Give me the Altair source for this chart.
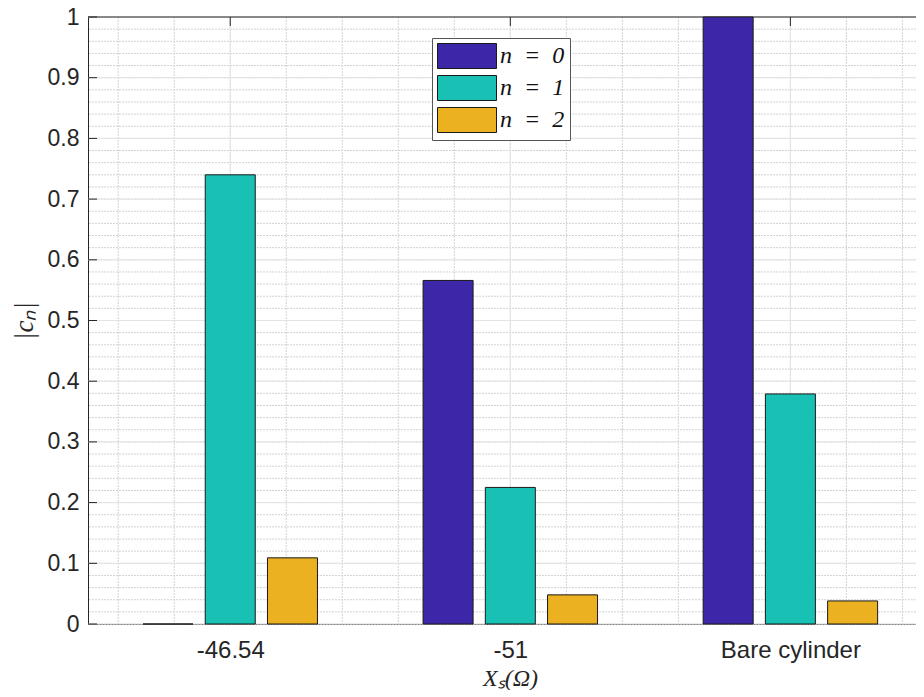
import json
import altair as alt
import pandas as pd

# ---- data ----
groups = ["-46.54", "-51", "Bare cylinder"]
series = ["n\u2002=\u20020", "n\u2002=\u20021", "n\u2002=\u20022"]
n0 = [0.0, 0.566, 1.0]
n1 = [0.74, 0.225, 0.379]
n2 = [0.109, 0.048, 0.038]
colors = ["#3D26A8", "#19C0B4", "#EBB120"]
y_ticks = [0, 0.1, 0.2, 0.3, 0.4, 0.5, 0.6, 0.7, 0.8, 0.9, 1]

rows = []
for gi, g in enumerate(groups):
    for si, vals in enumerate([n0, n1, n2]):
        rows.append({"group": g, "gi": gi + 1, "si": si, "series": series[si], "value": vals[gi]})
df = pd.DataFrame(rows)

W, H = 828, 607
XDOM = [0.51, 0.51 + W / 283.5]
xscale = alt.Scale(domain=XDOM, nice=False, zero=False)
yscale = alt.Scale(domain=[0, 1], nice=False)
AX = "#262626"
FONT = "Liberation Sans"

label_expr = json.dumps(groups) + "[round(datum.value) - 1]"
xaxis = alt.Axis(
    values=[1, 2, 3],
    labelExpr=label_expr,
    labelFont=FONT,
    labelFontSize=24,
    labelColor=AX,
    labelPadding=14,
    ticks=False,
    tickSize=0,
    grid=False,
    domainColor=AX,
    labelFlush=False,
    title="X\u209b(\u03a9)",
    titleFont="Liberation Serif",
    titleFontStyle="italic",
    titleFontWeight="normal",
    titleFontSize=24,
    titleColor=AX,
    titleX=422,
    titleY=42,
    titleAnchor="middle",
    titleAlign="center",
    titleBaseline="top",
)
yaxis = alt.Axis(
    values=y_ticks,
    format="~g",
    labelFont=FONT,
    labelFontSize=23,
    labelColor=AX,
    labelPadding=9,
    ticks=False,
    tickSize=0,
    grid=False,
    domainColor=AX,
    labelFlush=False,
    title="|c\u2099|",
    titleFont="Liberation Serif",
    titleFontStyle="italic",
    titleFontWeight="normal",
    titleFontSize=27,
    titleColor=AX,
    titlePadding=9,
)

# ---- grid ----
minor_y = alt.Chart(alt.sequence(0, 1.001, 0.02, as_="v")).mark_rule(
    color="#d2d2d2", strokeDash=[2, 1], strokeWidth=1
).encode(y=alt.Y("v:Q", scale=yscale, axis=yaxis))
minor_x = alt.Chart(alt.sequence(0.6, 3.45, 0.2, as_="v")).mark_rule(
    color="#d2d2d2", strokeDash=[2, 1], strokeWidth=1
).encode(x=alt.X("v:Q", scale=xscale, axis=xaxis))
major_y = alt.Chart(pd.DataFrame({"v": y_ticks})).mark_rule(
    color="#e4e4e4", strokeWidth=1
).encode(y=alt.Y("v:Q", scale=yscale, axis=yaxis))
major_x = alt.Chart(pd.DataFrame({"v": [1, 2, 3]})).mark_rule(
    color="#e4e4e4", strokeWidth=1
).encode(x=alt.X("v:Q", scale=xscale, axis=xaxis))

# ---- inward ticks and top border ----
yt = alt.Chart(pd.DataFrame({"v": y_ticks})).mark_rule(color=AX, strokeWidth=1).encode(
    y=alt.Y("v:Q", scale=yscale, axis=yaxis), x=alt.value(0), x2=alt.value(9)
)
xt_top = alt.Chart(pd.DataFrame({"v": [1, 2, 3]})).mark_rule(color=AX, strokeWidth=1).encode(
    x=alt.X("v:Q", scale=xscale, axis=xaxis), y=alt.value(0), y2=alt.value(9)
)
xt_bot = alt.Chart(pd.DataFrame({"v": [1, 2, 3]})).mark_rule(color=AX, strokeWidth=1).encode(
    x=alt.X("v:Q", scale=xscale, axis=xaxis), y=alt.value(H - 9), y2=alt.value(H)
)
top_border = alt.Chart(pd.DataFrame({"v": [1]})).mark_rule(color=AX, strokeWidth=1).encode(
    y=alt.Y("v:Q", scale=yscale, axis=yaxis)
)

# ---- bars ----
bars = alt.Chart(df).transform_calculate(
    xpos="datum.gi + (datum.si - 1) * 0.2222"
).mark_bar(size=50, stroke="#1a1a1a", strokeWidth=1).encode(
    x=alt.X("xpos:Q", scale=xscale, axis=xaxis),
    y=alt.Y("value:Q", scale=yscale, axis=yaxis),
    color=alt.Color(
        "series:N",
        scale=alt.Scale(domain=series, range=colors),
        legend=alt.Legend(
            title=None,
            orient="none",
            legendX=344,
            legendY=21,
            fillColor="white",
            strokeColor="#555555",
            padding=5,
            rowPadding=2,
            symbolType="M-1,-1H3.72V1H-1Z",
            symbolSize=625,
            symbolStrokeColor="#1a1a1a",
            symbolStrokeWidth=1,
            symbolOpacity=1,
            labelFont="Liberation Serif",
            labelFontStyle="italic",
            labelFontSize=24,
            labelColor="#111111",
            labelOffset=37,
        ),
    ),
)

chart = alt.layer(
    minor_y, minor_x, major_y, major_x, yt, xt_top, xt_bot, top_border, bars
).properties(
    width=W,
    height=H,
    autosize=alt.AutoSizeParams(type="none"),
    padding={"left": 80, "top": 9, "right": 0, "bottom": 66},
    background="white",
).configure_view(stroke=None)

chart.save("out.html", embed_options={"renderer": "svg", "actions": False})
